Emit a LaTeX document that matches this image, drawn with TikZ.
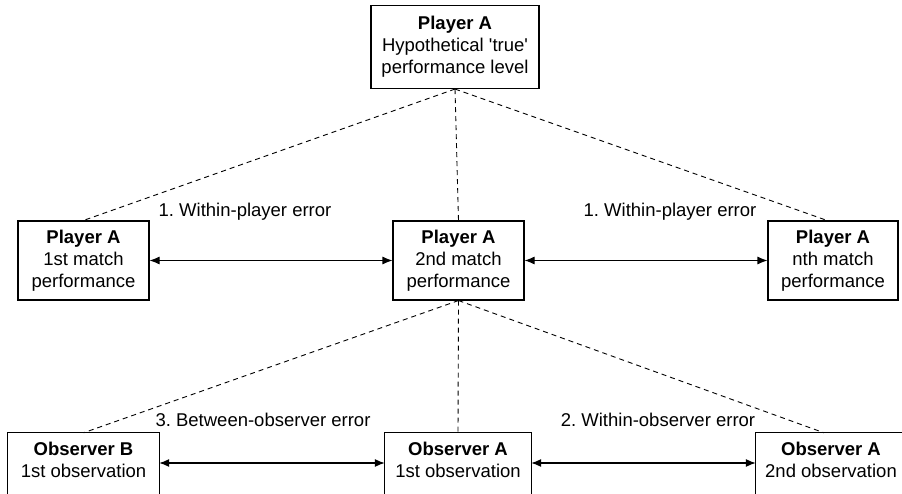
\documentclass[tikz,border=0pt]{standalone}
\usepackage{fontspec}
\setmainfont{Liberation Sans}[Ligatures=TeXOff]
\usetikzlibrary{arrows.meta}
\frenchspacing
\begin{document}
\begin{tikzpicture}[x=1pt,y=-1pt,
  txt/.style={align=center, font=\fontsize{18.5}{22}\selectfont, inner sep=0pt},
  box/.style={txt, draw, line width=1.1pt},
  boxline/.style={line width=1.1pt},
  lbl/.style={font=\fontsize{18.5}{22}\selectfont, inner sep=0pt},
  dl/.style={line width=0.9pt, dash pattern=on 5pt off 4pt},
  ar/.style={{Latex[length=10pt,width=8pt]}-{Latex[length=10pt,width=8pt]}, line width=1.1pt}]
\useasboundingbox (0,0) rectangle (902,494);
\clip (0,0) rectangle (902,494);
\fill[white] (0,0) rectangle (902,494);
% top
\node[box, minimum width=168, minimum height=83] (top) at (455,47) {\textbf{Player A}\\Hypothetical 'true'\\performance level};
% middle row
\node[box, minimum width=131, minimum height=79] (m1) at (83.5,260.5) {\textbf{Player A}\\1st match\\performance};
\node[box, minimum width=131, minimum height=79] (m2) at (458.5,260.5) {\textbf{Player A}\\2nd match\\performance};
\node[box, minimum width=130, minimum height=79] (m3) at (833,260.5) {\textbf{Player A}\\nth match\\performance};
% bottom row
\node[txt, minimum width=151, minimum height=54] (b1) at (83.5,460) {\textbf{Observer B}\\1st observation};
\node[txt, minimum width=146, minimum height=54] (b2) at (458,460) {\textbf{Observer A}\\1st observation};
\node[txt, minimum width=150, minimum height=54] (b3) at (831,460) {\textbf{Observer A}\\2nd observation};
\foreach \n in {b1,b2,b3}{
  \draw[boxline] (\n.north west) rectangle ([yshift=-20pt]\n.south east);
}
% dashed connectors
\draw[dl] (top.south) -- (m1.north);
\draw[dl] (top.south) -- (m2.north);
\draw[dl] (top.south) -- ([xshift=-6pt]m3.north);
\draw[dl] (m2.south) -- (b1.north);
\draw[dl] (m2.south) -- (b2.north);
\draw[dl] (m2.south) -- ([xshift=-7pt]b3.north);
% arrows
\draw[ar] (m1.east) -- (m2.west);
\draw[ar] (m2.east) -- (m3.west);
\draw[ar] ([yshift=-3pt]b1.east) -- ([yshift=-3pt]b2.west);
\draw[ar] ([yshift=-3pt]b2.east) -- ([yshift=-3pt]b3.west);
% labels
\node[lbl] (l1) at (245,212) {1. Within-player error};
\node[lbl] (l2) at (670,212) {1. Within-player error};
\node[lbl] (l3) at (263,420) {3. Between-observer error};
\node[lbl] (l4) at (658,420) {2. Within-observer error};
\end{tikzpicture}
\end{document}
